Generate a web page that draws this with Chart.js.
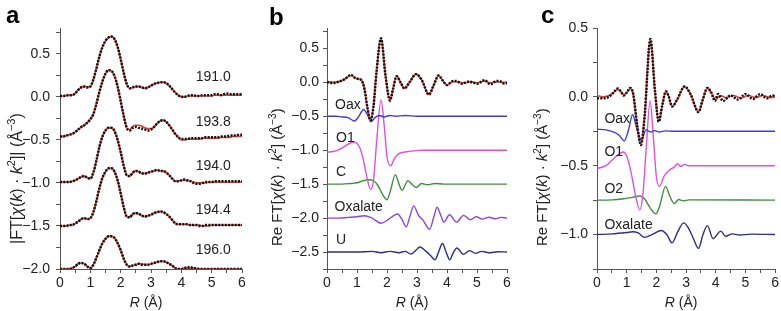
<!DOCTYPE html>
<html><head><meta charset="utf-8">
<script src="https://cdn.jsdelivr.net/npm/chart.js@4/dist/chart.umd.min.js"></script>
<style>
html,body{margin:0;padding:0;background:#fff;width:781px;height:311px;overflow:hidden}
.p{position:absolute;top:0;height:311px}
</style></head><body>
<div class="p" style="left:0;width:260px"><canvas id="ca" width="260" height="311"></canvas></div>
<div class="p" style="left:260px;width:260px"><canvas id="cb" width="260" height="311"></canvas></div>
<div class="p" style="left:520px;width:261px"><canvas id="cc" width="261" height="311"></canvas></div>
<script>
// ---------- Panel a : |FT| magnitude, R grid (Å) ----------
const aR = [0,0.1,0.2,0.3,0.4,0.5,0.6,0.7,0.8,0.9,1.0,1.1,1.2,1.3,1.4,1.5,1.6,1.7,1.8,1.9,2.0,2.1,2.2,2.3,2.4,2.5,2.6,2.7,2.8,2.9,3.0,3.1,3.2,3.3,3.4,3.5,3.6,3.7,3.8,3.9,4.0,4.1,4.2,4.3,4.4,4.5,4.6,4.7,4.8,4.9,5.0,5.1,5.2,5.3,5.4,5.5,5.6,5.7,5.8,5.9,6.0];
const aNames = ['191.0','193.8','194.0','194.4','196.0'];
const aOffsets = [0,-0.5,-1.0,-1.5,-2.0];
const a191 = [0.01,0.01,0.015,0.02,0.02,0.04,0.08,0.11,0.12,0.11,0.12,0.2,0.33,0.47,0.58,0.65,0.69,0.70,0.67,0.58,0.44,0.28,0.15,0.1,0.11,0.12,0.12,0.11,0.1,0.11,0.13,0.15,0.16,0.17,0.17,0.16,0.13,0.09,0.05,0.02,0.0,0.0,0.01,0.02,0.02,0.01,0.01,0.02,0.02,0.02,0.02,0.03,0.03,0.02,0.03,0.04,0.03,0.03,0.03,0.03,0.03];
const a191fit = [0.01,0.01,0.015,0.02,0.02,0.04,0.08,0.11,0.12,0.115,0.12,0.2,0.33,0.47,0.58,0.65,0.69,0.70,0.67,0.58,0.44,0.28,0.15,0.1,0.11,0.12,0.12,0.11,0.1,0.11,0.13,0.15,0.16,0.17,0.17,0.16,0.13,0.09,0.05,0.02,0.0,0.0,0.01,0.01,0.01,0.01,0.01,0.01,0.01,0.01,0.01,0.02,0.02,0.02,0.02,0.02,0.02,0.02,0.02,0.02,0.02];
const a193 = [0.04,0.04,0.05,0.06,0.07,0.09,0.12,0.15,0.17,0.2,0.24,0.3,0.42,0.56,0.68,0.77,0.81,0.8,0.74,0.62,0.45,0.28,0.14,0.11,0.14,0.15,0.14,0.13,0.12,0.11,0.12,0.15,0.19,0.22,0.23,0.21,0.17,0.12,0.07,0.03,0.01,0.01,0.01,0.02,0.02,0.02,0.02,0.02,0.03,0.03,0.03,0.03,0.03,0.04,0.04,0.04,0.05,0.05,0.05,0.06,0.06];
const a193fit = [0.04,0.04,0.05,0.06,0.07,0.09,0.12,0.15,0.17,0.2,0.24,0.3,0.42,0.56,0.68,0.77,0.81,0.8,0.74,0.62,0.45,0.28,0.14,0.12,0.16,0.17,0.17,0.16,0.14,0.13,0.13,0.15,0.19,0.22,0.23,0.21,0.17,0.12,0.07,0.03,0.0,0.0,0.01,0.01,0.01,0.01,0.01,0.02,0.02,0.02,0.02,0.02,0.02,0.03,0.03,0.03,0.03,0.04,0.04,0.04,0.04];
const a194 = [0.01,0.01,0.01,0.01,0.02,0.03,0.05,0.07,0.08,0.06,0.05,0.12,0.26,0.42,0.54,0.61,0.64,0.64,0.6,0.5,0.36,0.2,0.09,0.08,0.12,0.14,0.13,0.11,0.11,0.12,0.13,0.14,0.15,0.14,0.14,0.12,0.09,0.05,0.02,0.02,0.03,0.04,0.03,0.02,0.0,-0.01,-0.01,0.0,0.01,0.01,0.01,0.02,0.02,0.02,0.02,0.02,0.02,0.02,0.02,0.02,0.02];
const a194fit = [0.01,0.01,0.01,0.01,0.02,0.03,0.05,0.07,0.08,0.06,0.05,0.12,0.26,0.42,0.54,0.61,0.64,0.64,0.6,0.5,0.36,0.2,0.09,0.08,0.12,0.14,0.13,0.11,0.11,0.12,0.13,0.14,0.15,0.14,0.14,0.12,0.09,0.05,0.02,0.02,0.03,0.03,0.03,0.02,0.01,0.0,0.0,0.0,0.0,0.01,0.01,0.01,0.01,0.01,0.01,0.01,0.01,0.01,0.01,0.01,0.01];
const a1944 = [0.0,0.0,0.0,0.01,0.01,0.03,0.05,0.08,0.09,0.08,0.09,0.16,0.29,0.44,0.56,0.63,0.67,0.67,0.63,0.53,0.38,0.22,0.11,0.1,0.14,0.15,0.14,0.12,0.11,0.12,0.13,0.15,0.16,0.17,0.16,0.14,0.11,0.07,0.03,0.02,0.02,0.02,0.02,0.01,0.01,0.01,0.0,0.0,0.01,0.01,0.01,0.01,0.01,0.01,0.01,0.01,0.01,0.01,0.01,0.01,0.01];
const a1944fit = [0.0,0.0,0.0,0.01,0.01,0.03,0.05,0.08,0.09,0.08,0.09,0.16,0.29,0.44,0.56,0.63,0.67,0.67,0.63,0.53,0.38,0.22,0.11,0.1,0.14,0.15,0.14,0.12,0.11,0.12,0.13,0.15,0.16,0.17,0.16,0.14,0.11,0.07,0.03,0.02,0.02,0.02,0.02,0.01,0.01,0.01,0.01,0.0,0.0,0.0,0.01,0.01,0.01,0.01,0.01,0.01,0.01,0.01,0.01,0.01,0.01];
const a196 = [0.0,0.0,0.0,0.0,0.01,0.03,0.06,0.07,0.06,0.03,0.01,0.05,0.13,0.22,0.3,0.35,0.38,0.38,0.36,0.3,0.22,0.12,0.05,0.03,0.04,0.05,0.06,0.05,0.05,0.05,0.06,0.07,0.08,0.09,0.09,0.08,0.06,0.04,0.01,0.0,0.0,0.01,0.02,0.02,0.01,0.01,0.0,0.0,0.0,0.0,0.0,0.0,0.0,0.0,0.0,0.0,0.0,0.0,0.0,0.0,0.0];
const a196fit = [0.0,0.0,0.0,0.0,0.01,0.03,0.06,0.07,0.06,0.03,0.01,0.05,0.13,0.22,0.3,0.35,0.38,0.38,0.36,0.3,0.22,0.12,0.05,0.03,0.04,0.05,0.06,0.06,0.05,0.05,0.06,0.07,0.08,0.09,0.09,0.08,0.06,0.04,0.01,0.0,0.0,0.01,0.01,0.01,0.01,0.0,0.0,0.0,0.0,0.0,0.0,0.0,0.0,0.0,0.0,0.0,0.0,0.0,0.0,0.0,0.0];
const aData = [a191,a193,a194,a1944,a196];
const aFit = [a191fit,a193fit,a194fit,a1944fit,a196fit];

// ---------- Panel b : Re FT, experiment + fit and paths ----------
const bDataR = [0,0.2,0.4,0.6,0.8,0.95,1.05,1.15,1.25,1.35,1.45,1.55,1.65,1.8,1.95,2.1,2.2,2.32,2.45,2.58,2.75,2.97,3.15,3.4,3.55,3.72,3.85,4.0,4.15,4.3,4.5,4.7,4.85,5.0,5.25,5.45,5.65,5.8,5.9,6.0];
const bDataV = [0.0,-0.01,0.01,0.05,0.11,0.06,0.05,0.03,-0.1,-0.38,-0.56,-0.35,0.15,0.65,0.1,-0.27,-0.1,0.09,0.0,-0.09,0.0,0.12,0.04,-0.18,-0.05,0.1,0.03,-0.04,0.01,0.02,-0.02,0.01,0.0,-0.02,0.03,-0.03,0.02,0.01,-0.02,-0.01];
const bFitR = [0,0.2,0.4,0.6,0.8,0.95,1.05,1.15,1.25,1.35,1.45,1.55,1.65,1.8,1.95,2.1,2.2,2.32,2.45,2.58,2.75,2.97,3.15,3.4,3.55,3.72,3.85,4.0,4.2,4.4,4.6,4.8,5.0,5.25,5.45,5.65,5.85,6.0];
const bFitV = [0.01,0.0,0.01,0.05,0.1,0.06,0.05,0.03,-0.1,-0.38,-0.56,-0.35,0.15,0.65,0.1,-0.27,-0.1,0.09,0.0,-0.09,0.0,0.12,0.04,-0.18,-0.05,0.1,0.03,-0.04,0.01,0.0,-0.01,0.01,-0.01,0.02,-0.01,0.01,0.0,0.0];
const bOaxR = [0,0.3,0.5,0.7,0.92,1.05,1.22,1.35,1.47,1.6,1.75,1.9,2.1,2.3,2.6,3.0,6.0];
const bOaxV = [0.0,0.0,-0.01,-0.02,-0.07,-0.01,0.1,0.02,-0.08,-0.02,0.01,-0.01,0.01,0.0,0.01,0.0,0.0];
const bO1R = [0,0.2,0.4,0.6,0.8,0.9,1.0,1.1,1.2,1.3,1.45,1.55,1.65,1.8,1.92,2.0,2.12,2.25,2.4,2.55,2.7,2.9,3.2,6.0];
const bO1V = [-0.03,-0.02,0.01,0.06,0.11,0.12,0.1,0.03,-0.12,-0.33,-0.58,-0.45,0.1,0.74,0.3,-0.1,-0.23,-0.12,-0.05,-0.03,-0.02,-0.01,0.0,0.0];
const bCR = [0,0.5,0.8,1.0,1.2,1.4,1.55,1.7,1.85,2.0,2.1,2.28,2.4,2.5,2.7,2.85,2.98,3.15,3.35,3.6,3.9,6.0];
const bCV = [0,0.0,0.01,0.02,0.05,0.065,0.05,-0.02,-0.15,-0.23,-0.12,0.14,0.0,-0.09,0.05,-0.01,-0.05,0.01,-0.01,0.01,0.0,0.0];
const bOxR = [0,0.4,0.7,1.0,1.25,1.5,1.8,2.05,2.2,2.35,2.5,2.64,2.76,2.89,3.05,3.2,3.42,3.55,3.67,3.8,3.9,4.08,4.32,4.55,4.78,4.97,5.17,5.4,5.6,5.8,6.0];
const bOxV = [0,0.0,0.01,0.02,0.035,0.0,-0.075,-0.02,0.03,0.06,-0.02,-0.13,0.02,0.18,0.04,-0.03,-0.165,0.0,0.16,0.03,-0.06,0.05,-0.06,0.04,-0.025,0.02,-0.015,0.012,-0.01,0.01,0.0];
const bUR = [0,1.0,1.5,1.8,2.1,2.4,2.6,2.8,2.95,3.1,3.3,3.45,3.6,3.72,3.85,3.97,4.09,4.2,4.33,4.55,4.75,4.95,5.15,5.4,5.7,6.0];
const bUV = [0,0.0,0.01,-0.01,0.01,-0.01,0.01,-0.03,0.02,0.075,0.01,-0.05,-0.115,0.0,0.125,0.0,-0.115,-0.02,0.06,-0.035,0.02,-0.02,0.01,-0.01,0.005,0.0];
const bNames = ['Oax','O1','C','Oxalate','U'];
const bOffsets = [-0.5,-1.0,-1.5,-2.0,-2.5];

// ---------- Panel c ----------
const cDataR = [0,0.2,0.4,0.55,0.7,0.8,0.9,1.0,1.12,1.22,1.35,1.48,1.6,1.8,1.95,2.08,2.2,2.32,2.42,2.53,2.7,2.95,3.15,3.42,3.55,3.72,3.85,3.97,4.08,4.25,4.5,4.75,5.0,5.25,5.5,5.72,5.92,6.0];
const cDataV = [-0.01,-0.01,0.0,0.03,0.06,0.04,0.01,0.03,0.065,0.02,-0.2,-0.35,-0.15,0.42,0.05,-0.18,-0.06,0.04,0.0,-0.07,-0.02,0.075,0.02,-0.11,-0.03,0.065,0.03,-0.03,0.02,-0.03,0.01,-0.02,0.02,-0.015,0.02,-0.01,0.01,-0.005];
const cFitR = [0,0.2,0.4,0.55,0.7,0.8,0.9,1.0,1.12,1.22,1.35,1.48,1.6,1.8,1.95,2.08,2.2,2.32,2.42,2.53,2.7,2.95,3.15,3.42,3.55,3.72,3.85,4.0,4.15,4.35,4.6,4.85,5.1,5.35,5.6,5.85,6.0];
const cFitV = [0.01,0.0,0.01,0.03,0.055,0.04,0.015,0.03,0.06,0.02,-0.2,-0.35,-0.15,0.42,0.05,-0.18,-0.06,0.04,0.0,-0.07,-0.02,0.075,0.02,-0.11,-0.03,0.065,0.03,-0.02,0.01,-0.005,0.01,-0.01,0.01,-0.005,0.01,-0.005,0.0];
const cOaxR = [0,0.3,0.55,0.75,0.92,1.05,1.2,1.35,1.5,1.65,1.8,1.95,2.1,2.3,2.6,6.0];
const cOaxV = [0.015,0.01,-0.005,-0.03,-0.07,0.0,0.12,0.01,-0.065,0.01,-0.005,0.005,-0.005,0.003,0.0,0.0];
const cO1R = [0,0.3,0.6,0.88,1.0,1.15,1.3,1.44,1.55,1.65,1.79,1.9,2.0,2.1,2.25,2.45,2.6,2.72,2.82,2.95,3.1,6.0];
const cO1V = [-0.02,0.0,0.06,0.1,0.07,-0.05,-0.22,-0.32,-0.2,0.1,0.47,0.2,-0.08,-0.15,-0.08,-0.03,-0.01,0.015,-0.005,0.01,0.0,0.0];
const cO2R = [0,0.5,0.9,1.2,1.45,1.6,1.8,1.98,2.1,2.31,2.45,2.6,2.75,2.9,3.1,6.0];
const cO2V = [0,0.002,0.01,0.02,0.03,0.01,-0.06,-0.1,-0.05,0.1,0.03,-0.025,0.005,-0.005,0.002,0.0];
const cOxR = [0,0.5,1.0,1.2,1.4,1.6,1.85,2.17,2.35,2.53,2.72,2.92,3.1,3.25,3.42,3.57,3.72,3.91,4.17,4.33,4.55,4.8,5.2,6.0];
const cOxV = [0,0.005,0.015,0.02,0.01,-0.02,0.0,0.03,0.0,-0.06,0.02,0.085,0.04,-0.03,-0.1,0.0,0.065,-0.03,0.025,-0.012,0.005,-0.003,0.003,0.0];
const cNames = ['Oax','O1','O2','Oxalate'];
const cOffsets = [-0.25,-0.5,-0.75,-1.0];

// ---------- axis titles (rich text: [text, style]) ----------
const titleA = [['|FT[',''],['χ','i'],['(',''],['k','i'],[') · ',''],['k','i'],['2','sup'],[']| (Å',''],['−3','sup'],[')','']];
const titleBC = [['Re FT[',''],['χ','i'],['(',''],['k','i'],[') · ',''],['k','i'],['2','sup'],['] (Å',''],['−3','sup'],[')','']];
const titleX = [['R','i'],[' (Å)','']];

// ---------- helpers ----------
const FONT = "'Liberation Sans', Arial, Helvetica, sans-serif";
Chart.defaults.font.family = FONT;
Chart.defaults.color = '#222';
const RED = '#e2463f', BLACK = '#111';
const COL = {Oax:'#3d3ddb', O1:'#e050e0', C:'#3f8f3f', O2:'#3f8f3f', OxB:'#8a44e2', U:'#2f2f80', OxC:'#2f2f80'};

function pts(R, V, off){ return R.map((r,i)=>({x:r, y:V[i]+off})); }
function line(data, color, width, order, dash){
  return {data, borderColor:color, borderWidth:width, pointRadius:0, fill:false,
          cubicInterpolationMode:'monotone', order, borderDash:dash||[], borderCapStyle:'butt'};
}
const fmt = v => { const s = Math.abs(v).toFixed(1); return v < -1e-9 ? '\u2212'+s : s; };
const yTick = v => Math.abs(v*2-Math.round(v*2))<1e-6 ? fmt(v) : '';
const xTick = v => Math.abs(v-Math.round(v))<1e-6 ? String(Math.round(v)) : '';

function segFont(s, size){
  if (s === 'sup') return Math.round(size*0.68) + 'px ' + FONT;
  return (s === 'i' ? 'italic ' : '') + size + 'px ' + FONT;
}
function drawRich(ctx, segs, size, x0, y0, rot, anchor){
  const w = segs.map(([t,s]) => { ctx.font = segFont(s,size); return ctx.measureText(t).width; });
  const total = w.reduce((a,b)=>a+b,0);
  ctx.save(); ctx.translate(x0, y0); ctx.rotate(rot);
  ctx.textBaseline = 'alphabetic'; ctx.textAlign = 'left';
  let x = anchor === 'center' ? -total/2 : (anchor === 'end' ? -total : 0);
  const base = size*0.36;
  segs.forEach(([t,s],i) => { ctx.font = segFont(s,size); ctx.fillText(t, x, s==='sup' ? base - size*0.4 : base); x += w[i]; });
  ctx.restore();
}

const textPlugin = {
  id:'panelText',
  afterDraw(chart, args, o){
    const ctx = chart.ctx, xs = chart.scales.x, ys = chart.scales.y, ca = chart.chartArea;
    ctx.save();
    ctx.fillStyle = '#222';
    ctx.font = '14px ' + FONT;
    ctx.textBaseline = 'middle';
    (o.labels||[]).forEach(l => { ctx.textAlign = l.align; ctx.fillText(l.text, xs.getPixelForValue(l.x), ys.getPixelForValue(l.y)); });
    // axis titles
    drawRich(ctx, o.ytitle, o.ytf, o.ytx, o.yty, -Math.PI/2, 'start');
    drawRich(ctx, titleX, 14, (ca.left+ca.right)/2 - 5, 302, 0, 'center');
    // panel letter
    ctx.font = 'bold 24px ' + FONT;
    ctx.textAlign = 'left'; ctx.textBaseline = 'alphabetic';
    ctx.fillStyle = '#000';
    ctx.fillText(o.letter, o.lx, o.ly);
    ctx.restore();
  }
};

function opts(c){
  return {
    responsive:false, animation:false,
    layout:{padding:{left:0, right:c.padR, top:c.padT, bottom:0}},
    plugins:{legend:{display:false}, tooltip:{enabled:false},
      panelText:{labels:c.labels, letter:c.letter, lx:c.lx, ly:c.ly, ytitle:c.ytitle, ytf:c.tf, ytx:c.ytx, yty:c.yty}},
    scales:{
      x:{type:'linear', min:0, max:6, afterFit:s=>{s.height=c.xH;},
        ticks:{stepSize:0.5, autoSkip:false, maxRotation:0, callback:xTick, color:'#222', font:{size:14}, padding:2},
        grid:{drawOnChartArea:false, tickLength:4, color:'#555', tickColor:'#555'},
        border:{display:true, color:'#555', width:1},
        title:{display:false}},
      y:{type:'linear', min:c.ymin, max:c.ymax, afterFit:s=>{s.width=c.yW;},
        ticks:{stepSize:0.25, includeBounds:false, autoSkip:false, callback:yTick, color:'#222', font:{size:14}, padding:c.tp},
        grid:{drawOnChartArea:false, tickLength:4, color:'#555', tickColor:'#555'},
        border:{display:true, color:'#555', width:1},
        title:{display:false}}
    }
  };
}
const DASH = [2,1.3];

// ---------- Panel a ----------
const aSets = [];
aData.forEach((d,i)=>{
  aSets.push(line(pts(aR, d, aOffsets[i]), BLACK, 2.5, 1, DASH));
  aSets.push(line(pts(aR, aFit[i], aOffsets[i]), RED, 1.7, 2));
});
new Chart(document.getElementById('ca'), {type:'line', data:{datasets:aSets}, plugins:[textPlugin],
  options:opts({padR:18, padT:28, xH:42, yW:60, ymin:-2.0, ymax:0.8, tp:6,
    ytitle:titleA, tf:16, ytx:16, yty:244, letter:'a', lx:6, ly:23,
    labels:[{text:aNames[0],x:5.05,y:0.23,align:'center'},{text:aNames[1],x:5.05,y:-0.29,align:'center'},
            {text:aNames[2],x:5.05,y:-0.80,align:'center'},{text:aNames[3],x:5.05,y:-1.32,align:'center'},
            {text:aNames[4],x:5.05,y:-1.78,align:'center'}]})});

// ---------- Panel b ----------
const bSets = [
  line(pts(bDataR, bDataV, 0), BLACK, 2.5, 1, DASH),
  line(pts(bFitR, bFitV, 0), RED, 1.7, 2),
  line(pts(bOaxR, bOaxV, bOffsets[0]), COL.Oax, 1.4, 3),
  line(pts(bO1R, bO1V, bOffsets[1]), COL.O1, 1.4, 4),
  line(pts(bCR, bCV, bOffsets[2]), COL.C, 1.4, 5),
  line(pts(bOxR, bOxV, bOffsets[3]), COL.OxB, 1.4, 6),
  line(pts(bUR, bUV, bOffsets[4]), COL.U, 1.4, 7)
];
new Chart(document.getElementById('cb'), {type:'line', data:{datasets:bSets}, plugins:[textPlugin],
  options:opts({padR:13, padT:28, xH:42, yW:67, ymin:-2.75, ymax:0.8, tp:4,
    ytitle:titleBC, tf:15, ytx:17, yty:246, letter:'b', lx:9, ly:25,
    labels:[{text:bNames[0],x:0.27,y:-0.34,align:'left'},{text:bNames[1],x:0.3,y:-0.82,align:'left'},
            {text:bNames[2],x:0.3,y:-1.33,align:'left'},{text:bNames[3],x:0.25,y:-1.84,align:'left'},
            {text:bNames[4],x:0.3,y:-2.33,align:'left'}]})});

// ---------- Panel c ----------
const cSets = [
  line(pts(cDataR, cDataV, 0), BLACK, 2.5, 1, DASH),
  line(pts(cFitR, cFitV, 0), RED, 1.7, 2),
  line(pts(cOaxR, cOaxV, cOffsets[0]), COL.Oax, 1.4, 3),
  line(pts(cO1R, cO1V, cOffsets[1]), COL.O1, 1.4, 4),
  line(pts(cO2R, cO2V, cOffsets[2]), COL.O2, 1.4, 5),
  line(pts(cOxR, cOxV, cOffsets[3]), COL.OxC, 1.4, 6)
];
new Chart(document.getElementById('cc'), {type:'line', data:{datasets:cSets}, plugins:[textPlugin],
  options:opts({padR:4, padT:28, xH:42, yW:77, ymin:-1.25, ymax:0.5, tp:5,
    ytitle:titleBC, tf:15, ytx:22, yty:246, letter:'c', lx:21, ly:23,
    labels:[{text:cNames[0],x:0.25,y:-0.16,align:'left'},{text:cNames[1],x:0.25,y:-0.40,align:'left'},
            {text:cNames[2],x:0.25,y:-0.67,align:'left'},{text:cNames[3],x:0.25,y:-0.93,align:'left'}]})});
</script>
</body></html>
